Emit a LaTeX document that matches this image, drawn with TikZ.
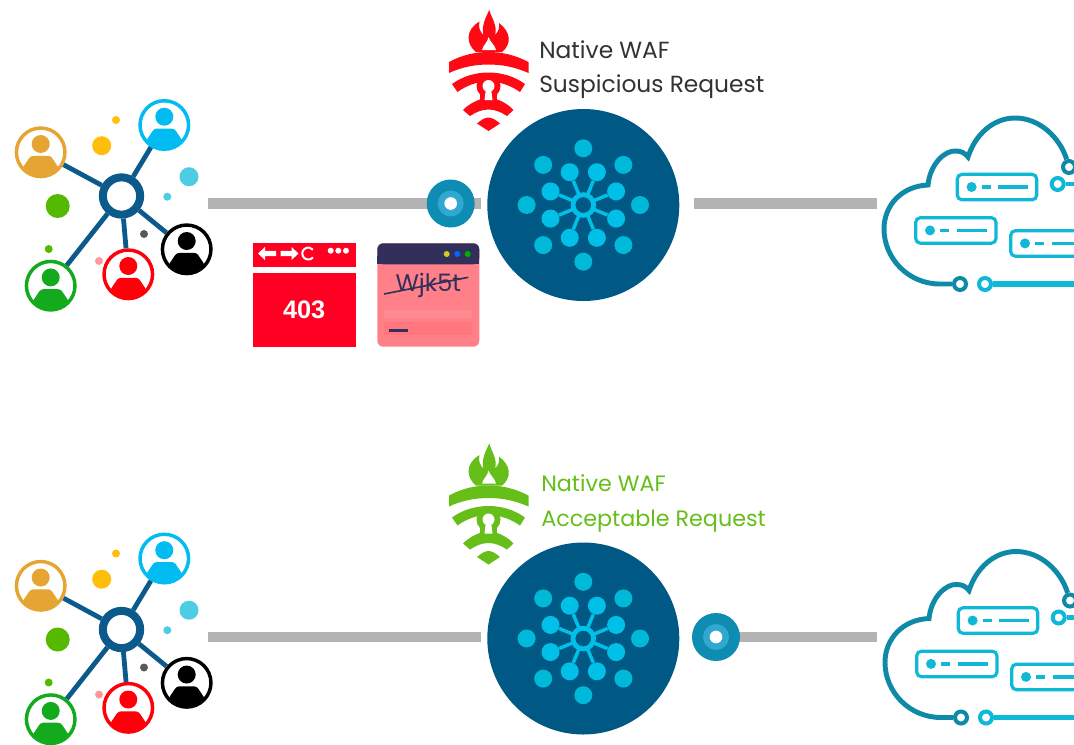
\documentclass[tikz,border=0pt]{standalone}
\usepackage{fontspec}
\setmainfont{Poppins}
\newfontfamily\digitfont{Liberation Sans}
\usetikzlibrary{positioning,calc}
\definecolor{hubblue}{RGB}{12,90,140}
\definecolor{lbblue}{RGB}{0,88,133}
\definecolor{lbdot}{RGB}{0,184,216}
\definecolor{lbspoke}{RGB}{0,192,232}
\definecolor{linegray}{RGB}{179,179,179}
\definecolor{cloudteal}{RGB}{14,138,168}
\definecolor{cloudcyan}{RGB}{16,184,216}
\definecolor{useramber}{RGB}{230,165,50}
\definecolor{usersky}{RGB}{0,188,240}
\definecolor{usergreen}{RGB}{20,170,30}
\definecolor{userred}{RGB}{255,0,10}
\definecolor{dotyellow}{RGB}{255,190,10}
\definecolor{dotgreen}{RGB}{85,185,0}
\definecolor{wafred}{RGB}{255,10,20}
\definecolor{wafgreen}{RGB}{102,190,25}
\definecolor{pagered}{RGB}{255,0,34}
\definecolor{pagepink}{RGB}{255,128,136}
\definecolor{pagenavy}{RGB}{50,48,90}
\definecolor{textgray}{RGB}{50,50,50}
\definecolor{badgeblue}{RGB}{15,140,178}
\definecolor{badgelight}{RGB}{48,168,208}

\tikzset{
    usernode/.style={circle, draw=#1, fill=white, line width=2.6pt, minimum size=36.4pt, inner sep=0pt,
        path picture={
            \fill[#1] (path picture bounding box.center) ++(0,-8.3) circle (9);
            \fill[#1, rounded corners=2pt] (path picture bounding box.center) ++(-10,3.5) -- ++(20,0) -- ++(8,12) -- ++(0,20) -- ++(-36,0) -- ++(0,-20) -- cycle;
        }},
    hubnode/.style={circle, draw=hubblue, fill=white, line width=6pt, minimum size=28pt, inner sep=0pt},
    hubline/.style={draw=hubblue, line width=3.6pt},
    flowline/.style={draw=linegray, line width=8.2pt},
    lbnode/.style={circle, fill=lbblue, minimum size=144pt, inner sep=0pt},
    lbouter/.style={circle, fill=lbdot, minimum size=13.5pt, inner sep=0pt},
    lbinner/.style={circle, fill=lbspoke, minimum size=13.5pt, inner sep=0pt},
    lbcore/.style={circle, draw=lbspoke, fill=lbblue, line width=3.6pt, minimum size=15.5pt, inner sep=0pt},
    flowbadge/.style={circle, fill=badgeblue, minimum size=36pt, inner sep=0pt},
    wafname/.style={anchor=west, inner sep=0pt, text height=14pt, text depth=5pt, font=\fontsize{#1}{20pt}\selectfont},
    serverbox/.style={draw=cloudcyan, fill=white, line width=2.4pt, rounded corners=3.5pt},
    serverbar/.style={cloudcyan, line width=2.6pt},
    cloudline/.style={draw=cloudteal, line width=3.7pt},
    cloudring/.style={circle, fill=white, line width=3pt, minimum size=9pt, inner sep=0pt},
}

\newcommand{\usergroup}[1]{
    \node[hubnode] (hub#1) at (121.5,196) {};
    \node[usernode=useramber] (amber#1) at (40.7,152.3) {};
    \node[usernode=usersky] (sky#1) at (164.3,125) {};
    \node[usernode=black] (dark#1) at (186.7,249.3) {};
    \node[usernode=userred] (red#1) at (128.3,274.3) {};
    \node[usernode=usergreen] (green#1) at (50.7,285.7) {};
    \foreach \name in {amber,sky,dark,red,green}
        \draw[hubline] (hub#1) -- (\name#1);
    \foreach \x/\y/\r/\c in {116/120/4/dotyellow, 101.7/145.7/9.5/dotyellow, 189/176.7/9.5/lbdot!70!white,
        167.3/196.7/4/lbdot!70!white, 57.7/206/12/dotgreen, 48.7/249/4/dotgreen, 99/261/4/userred!40!white, 144/234/4/black!65!white}
        \fill[\c] (\x,\y) circle (\r);
}

\newcommand{\wafbadge}[1]{
    \fill[#1] (476,52) .. controls (466,44) and (465,30) .. (479.5,21.5) .. controls (478,27) and (480,32) .. (483.5,35)
        .. controls (481,26) and (486,17) .. (489.3,10) .. controls (491,17) and (498,26) .. (495,35)
        .. controls (498,32) and (500,28) .. (499,23) .. controls (511,32) and (512,44) .. (502,52) -- cycle;
    \fill[white] (488.5,37) .. controls (488,42) and (483,45) .. (482,50) -- (496,50) .. controls (495,45) and (490,42) .. (488.5,37) -- cycle;
    \fill[#1] (449,62) .. controls (462,55) and (475,52) .. (488.5,52) .. controls (502,52) and (515,55) .. (528.5,62)
        -- (528.5,73) .. controls (515,67) and (502,64.5) .. (488.5,64.5) .. controls (475,64.5) and (462,67) .. (449,73) -- cycle;
    \fill[#1] (452,84) .. controls (463,76) and (476,72.5) .. (488.5,72.5) .. controls (501,72.5) and (514,76) .. (525,84)
        -- (520,92) .. controls (510,85) and (499,81.5) .. (488.5,81.5) .. controls (478,81.5) and (467,85) .. (457.5,92) -- cycle;
    \fill[#1] (463,110) .. controls (470,103) and (480,98) .. (488.5,98) .. controls (497,98) and (507,103) .. (513.5,110)
        -- (507,116) .. controls (501,112) and (495,109.5) .. (488.5,109.5) .. controls (482,109.5) and (476,112) .. (470,116) -- cycle;
    \fill[#1] (488.5,86) circle (12);
    \fill[#1] (480,86) rectangle (497,102);
    \fill[white] (488.5,86) circle (6);
    \fill[white] (486,88) -- (491,88) -- (492.5,100) -- (484.5,100) -- cycle;
    \fill[#1] (477,123.5) .. controls (481,120) and (485,117.5) .. (488.5,117.5) .. controls (492,117.5) and (496,120) .. (500,123.5) -- (488.5,131) -- cycle;
}

\newcommand{\lbicon}[1]{
    \node[lbnode] (lb#1) at (583.3,205) {};
    \foreach \a in {0,45,...,315}
        \node[lbouter] at ($(lb#1.center)+(\a:56.7)$) {};
    \foreach \a [count=\i] in {22.5,67.5,...,337.5} {
        \node[lbinner] (spoke#1\i) at ($(lb#1.center)+(\a:35.5)$) {};
        \draw[draw=lbspoke, line width=2.6pt] (lb#1.center) -- (spoke#1\i);
    }
    \node[lbcore] (core#1) at (lb#1.center) {};
}

\newcommand{\serverrow}[3]{
    \draw[serverbox] (#1,#2) rectangle (#1+#3,#2+25.5);
    \fill[cloudcyan] (#1+14.3,#2+12.7) circle (5);
    \draw[serverbar] (#1+24.3,#2+12.7) -- ++(9,0);
    \draw[serverbar] (#1+41,#2+12.7) -- ++(30,0);
}

\newcommand{\cloudicon}[1]{
    \node[cloudring, draw=cloudteal] (ringa#1) at (960,284) {};
    \node[cloudring, draw=cloudteal] (ringb#1) at (1069,167) {};
    \node[cloudring, draw=cloudcyan] (ringc#1) at (985,284) {};
    \node[cloudring, draw=cloudcyan] (ringd#1) at (1057.7,184) {};
    \coordinate (edgec#1) at (1074,284);
    \coordinate (edged#1) at (1074,184);
    \draw[cloudline] (ringa#1) -- (940,284) .. controls (908,284) and (884,258) .. (884,229) .. controls (884,205) and (902,186) .. (928,185)
        .. controls (930,164) and (945,150) .. (956,151) .. controls (961,151) and (965,153) .. (968,157)
        .. controls (975,135) and (993,118) .. (1015,118) .. controls (1040,118) and (1060,138) .. (ringb#1);
    \draw[draw=cloudcyan, line width=4pt] (ringc#1) -- (edgec#1);
    \draw[draw=cloudcyan, line width=3.2pt] (ringd#1) -- (edged#1);
    \serverrow{957.3}{174.3}{79.4}
    \serverrow{915.7}{217.7}{80.3}
    \serverrow{1010.7}{230.7}{80}
}

\begin{document}
\begin{tikzpicture}[x=0.75pt, y=-0.75pt]
    \useasboundingbox (0,0) rectangle (1074,744);
    \clip (0,0) rectangle (1074,744);

    % upper row
    \usergroup{T}
    \wafbadge{wafred}
    \lbicon{T}
    \cloudicon{T}
    \coordinate (startT) at (208,203.5);
    \coordinate (endT) at (877,203.5);
    \draw[flowline, shorten >=4.5pt] (startT) -- (startT -| lbT.west);
    \draw[flowline, shorten <=10.5pt] (endT -| lbT.east) -- (endT);
    \node[flowbadge] (badgeT) at (450.7,203.5) {};
    \node[circle, fill=badgelight, minimum size=19.5pt, inner sep=0pt] (badgemidT) at (badgeT) {};
    \node[circle, fill=white, minimum size=9.5pt, inner sep=0pt] (badgeinT) at (badgeT) {};
    \node[wafname=17.5pt, text=textgray] (nameT) at (539,52) {Native WAF};
    \node[wafname=17.5pt, text=textgray, below=6.5pt of nameT.south west, anchor=north west] (stateT) {Suspicious Request};

    % blocked page
    \fill[pagered] (252.7,243.3) rectangle (355.7,266.7);
    \node[fill=pagered, minimum width=77.25pt, minimum height=55pt, inner sep=0pt, text=white, font=\digitfont\bfseries\fontsize{19pt}{20pt}\selectfont] (blocked) at (304.2,310) {403};
    \fill[white] (258,253.5) -- (265,247) -- (265,250.8) -- (276,250.8) -- (276,256.2) -- (265,256.2) -- (265,260) -- cycle;
    \fill[white] (298.5,253.5) -- (291.5,247) -- (291.5,250.8) -- (280.5,250.8) -- (280.5,256.2) -- (291.5,256.2) -- (291.5,260) -- cycle;
    \draw[white, line width=1.5pt] (308.3,253.5) ++(40:6) arc (40:320:6);
    \foreach \x in {330.7,338.3,346}
        \fill[white] (\x,250.7) circle (3);

    % captcha page
    \fill[pagepink, rounded corners=4.5pt] (377.3,243.3) rectangle (479.3,346.7);
    \fill[pagenavy, rounded corners=4.5pt] (377.3,243.3) rectangle (479.3,264.3);
    \fill[pagenavy] (377.3,256) rectangle (479.3,264.3);
    \fill[pagepink!92!white] (384,310) rectangle (472,318);
    \fill[pagepink!92!red] (384,322) rectangle (472,335);
    \foreach \x/\c in {446.7/yellow!80!black, 457.3/blue!60!cyan, 467.7/green!70!black}
        \fill[\c] (\x,254) circle (3);
    \node[text=pagenavy, inner sep=0pt, font=\fontsize{18pt}{20pt}\selectfont] (captcha) at (428.3,285) {Wjk5t};
    \draw[pagenavy, line width=1.2pt] (384,294) -- (468.3,277.3);
    \draw[pagenavy, line width=2pt] (389.3,330.3) -- (408.3,330.3);

    % lower row
    \begin{scope}[shift={(0,433.5)}]
        \usergroup{B}
        \wafbadge{wafgreen}
        \lbicon{B}
        \begin{scope}[shift={(1,0)}]
            \cloudicon{B}
        \end{scope}
        \coordinate (startB) at (208,203.5);
        \coordinate (endB) at (877,203.5);
        \draw[flowline, shorten >=4.5pt] (startB) -- (startB -| lbB.west);
        \draw[flowline, shorten <=10.5pt] (endB -| lbB.east) -- (endB);
        \node[flowbadge] (badgeB) at (716,203.5) {};
        \node[circle, fill=badgelight, minimum size=19.5pt, inner sep=0pt] (badgemidB) at (badgeB) {};
        \node[circle, fill=white, minimum size=9.5pt, inner sep=0pt] (badgeinB) at (badgeB) {};
        \node[wafname=16.7pt, text=wafgreen] (nameB) at (541,52) {Native WAF};
        \node[wafname=16.7pt, text=wafgreen, below=6.5pt of nameB.south west, anchor=north west] (stateB) {Acceptable Request};
    \end{scope}
\end{tikzpicture}
\end{document}
